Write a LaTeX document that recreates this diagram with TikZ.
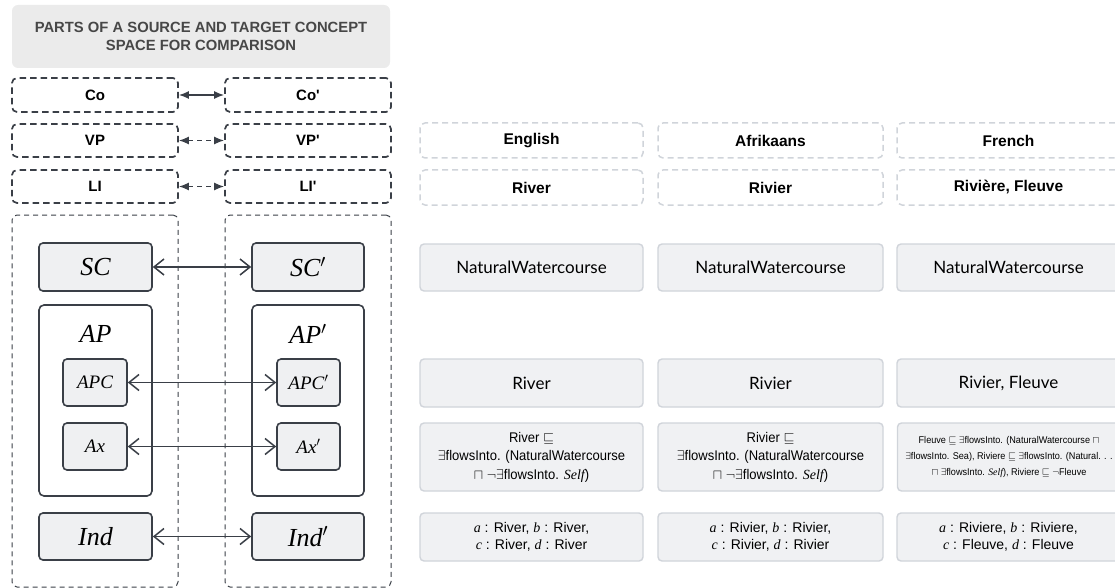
\RequirePackage{fix-cm}
\documentclass[tikz,border=0pt]{standalone}
\usepackage[no-math]{fontspec}
\setmainfont{Liberation Sans}
\newfontfamily\latofont{Lato}
\newfontfamily\narrowfont[FakeStretch=0.93]{Liberation Sans}
\newfontfamily\serifface{Liberation Serif}
\newcommand{\mi}[1]{{\serifface\itshape #1}}
\usetikzlibrary{arrows.meta}
\definecolor{ink}{HTML}{3A3F47}
\definecolor{boxfill}{HTML}{EFF0F2}
\definecolor{lightline}{HTML}{D0D4DA}
\definecolor{lightfill}{HTML}{F0F1F3}
\definecolor{titlefill}{HTML}{EBEBEB}
\definecolor{titleink}{HTML}{474747}
\begin{document}
\begin{tikzpicture}[x=1pt,y=-1pt,
  darkbox/.style 2 args={draw=ink, line width=1.6pt, fill=boxfill, rounded corners=4pt,
    minimum width=#1, minimum height=#2, inner sep=0pt},
  openbox/.style 2 args={draw=ink, line width=1.6pt, fill=white, rounded corners=5pt,
    minimum width=#1, minimum height=#2, inner sep=0pt},
  dashdark/.style={draw=ink, line width=1.7pt, dash pattern=on 6.5pt off 4pt, fill=white,
    rounded corners=5pt, minimum width=166pt, minimum height=34pt, inner sep=0pt,
    font=\bfseries\fontsize{15}{18}\selectfont},
  column/.style={draw=ink, line width=1pt, dash pattern=on 5pt off 4pt,
    rounded corners=5pt, minimum width=166pt, minimum height=372pt, inner sep=0pt},
  dashlight/.style={draw=lightline, line width=1.5pt, dash pattern=on 6pt off 4pt,
    rounded corners=5pt, minimum height=35pt, inner sep=0pt,
    font=\bfseries\fontsize{15.5}{18}\selectfont},
  lightbox/.style 2 args={draw=lightline, line width=1.4pt, fill=lightfill, rounded corners=4pt,
    minimum width=#1, minimum height=#2, inner sep=0pt, align=center},
  bigmath/.style={font=\fontsize{26}{30}\selectfont},
  smallmath/.style={font=\fontsize{19}{22}\selectfont},
  toparrow/.style={draw=ink, line width=1.5pt,
    {Latex[length=10pt,width=8pt]}-{Latex[length=10pt,width=8pt]}},
  mainarrow/.style={draw=ink, line width=1.5pt,
    {Straight Barb[length=10pt,width=16pt]}-{Straight Barb[length=10pt,width=16pt]}},
  nwtext/.style={font=\latofont\fontsize{17}{20}\selectfont},
  axtext/.style={font=\narrowfont\fontsize{14}{18.5}\selectfont},
  indtext/.style={font=\fontsize{14}{16.5}\selectfont}
]
\useasboundingbox (0,0) rectangle (1115,588);
\clip (0,0) rectangle (1115,588);

% title
\node[fill=titlefill, rounded corners=6pt, minimum width=378pt, minimum height=63pt,
  inner sep=0pt, align=center, text=titleink,
  font=\bfseries\fontsize{14.8}{18}\selectfont] (title) at (201,36.5)
  {PARTS OF A SOURCE AND TARGET CONCEPT\\SPACE FOR COMPARISON};

% top dashed boxes
\node[dashdark] (co)  at (95,95)  {Co};
\node[dashdark] (co2) at (308,95) {Co\textquotesingle};
\node[dashdark, minimum height=33pt] (vp)  at (95,140.5)  {VP};
\node[dashdark, minimum height=33pt] (vp2) at (308,140.5) {VP\textquotesingle};
\node[dashdark, minimum height=33pt] (li)  at (95,186.5)  {LI};
\node[dashdark, minimum height=33pt] (li2) at (308,186.5) {LI\textquotesingle};

% columns
\node[column] (colL) at (95,401) {};
\node[column] (colR) at (308,401) {};

% inner boxes
\node[darkbox={113pt}{48pt}, bigmath] (sc)  at (95.5,267) {\mi{SC}};
\node[darkbox={112pt}{48pt}, bigmath] (sc2) at (308,267)  {\mi{SC}$'$};
\node[openbox={113pt}{191pt}] (ap)  at (95.5,400.5) {};
\node[openbox={112pt}{191pt}] (ap2) at (308,400.5)  {};
\node[bigmath] (aplab)  at (95.5,334) {\mi{AP}};
\node[bigmath] (aplab2) at (308,334)  {\mi{AP}$'$};
\node[darkbox={64pt}{47pt}, smallmath] (apc)  at (95,382.5)   {\mi{APC}};
\node[darkbox={63pt}{47pt}, smallmath] (apc2) at (308.5,382.5) {\mi{APC}$'$};
\node[darkbox={64pt}{47pt}, smallmath] (ax)   at (95,446.5)   {\mi{Ax}};
\node[darkbox={63pt}{47pt}, smallmath] (ax2)  at (308.5,446.5) {\mi{Ax}$'$};
\node[darkbox={113pt}{47pt}, bigmath] (ind)  at (95.5,536.5) {\mi{Ind}};
\node[darkbox={112pt}{47pt}, bigmath] (ind2) at (308,536.5)  {\mi{Ind}$'$};

% arrows left
\draw[toparrow] (co.east) -- (co2.west);
\draw[toparrow, dash pattern=on 5pt off 4pt] (vp.east) -- (vp2.west);
\draw[toparrow, dash pattern=on 5pt off 4pt] (li.east) -- (li2.west);
\draw[mainarrow] (sc.east) -- (sc2.west);
\draw[mainarrow] (apc.east) -- (apc2.west);
\draw[mainarrow] (ax.east) -- (ax2.west);
\draw[mainarrow] (ind.east) -- (ind2.west);

% right: English
\node[dashlight, minimum width=223pt] (eng)  at (531.5,140.5) {English};
\node[dashlight, minimum width=223pt] (engw) at (531.5,187.5) {River};
\node[lightbox={223pt}{47pt}, nwtext] (engnw) at (531.5,267.5) {NaturalWatercourse};
\node[lightbox={223pt}{48pt}, nwtext] (engc)  at (531.5,383) {River};
\node[lightbox={223pt}{68pt}, axtext] (engax) at (531.5,457)
  {River $\sqsubseteq$\\$\exists$flowsInto. (NaturalWatercourse\\$\sqcap$ $\neg\exists$flowsInto. \mi{Self})};
\node[lightbox={223pt}{48pt}, indtext] (engind) at (531.5,537)
  {\mi{a} : River, \mi{b} : River,\\\mi{c} : River, \mi{d} : River};

% right: Afrikaans
\node[dashlight, minimum width=225pt] (afr)  at (770.5,140.5) {Afrikaans};
\node[dashlight, minimum width=225pt] (afrw) at (770.5,187.5) {Rivier};
\node[lightbox={225pt}{47pt}, nwtext] (afrnw) at (770.5,267.5) {NaturalWatercourse};
\node[lightbox={225pt}{48pt}, nwtext] (afrc)  at (770.5,383) {Rivier};
\node[lightbox={225pt}{68pt}, axtext] (afrax) at (770.5,457)
  {Rivier $\sqsubseteq$\\$\exists$flowsInto. (NaturalWatercourse\\$\sqcap$ $\neg\exists$flowsInto. \mi{Self})};
\node[lightbox={225pt}{48pt}, indtext] (afrind) at (770.5,537)
  {\mi{a} : Rivier, \mi{b} : Rivier,\\\mi{c} : Rivier, \mi{d} : Rivier};

% right: French
\node[dashlight, minimum width=223pt] (fre)  at (1008.5,140.5) {French};
\node[dashlight, minimum width=223pt] (frew) at (1008.5,187.5) {Rivière, Fleuve};
\node[lightbox={223pt}{47pt}, nwtext] (frenw) at (1008.5,267.5) {NaturalWatercourse};
\node[lightbox={223pt}{48pt}, nwtext] (frec)  at (1008.5,383) {Rivier, Fleuve};
\node[lightbox={223pt}{68pt}, font=\narrowfont\fontsize{9.8}{16}\selectfont] (freax) at (1009,457)
  {Fleuve $\sqsubseteq$ $\exists$flowsInto. (NaturalWatercourse $\sqcap$\\
   $\exists$flowsInto. Sea), Riviere $\sqsubseteq$ $\exists$flowsInto. (Natural. . .\\
   $\sqcap$ $\exists$flowsInto. \mi{Self}), Riviere $\sqsubseteq$ $\neg$Fleuve};
\node[lightbox={223pt}{48pt}, indtext] (freind) at (1008.5,537)
  {\mi{a} : Riviere, \mi{b} : Riviere,\\\mi{c} : Fleuve, \mi{d} : Fleuve};
\end{tikzpicture}
\end{document}
